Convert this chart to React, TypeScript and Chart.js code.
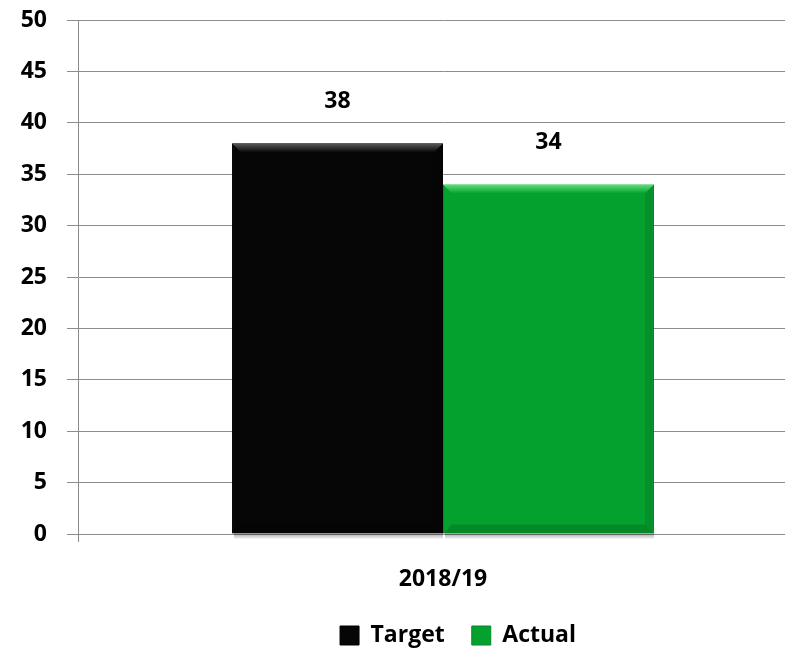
import React, { useEffect, useRef } from "react";
import { Chart, registerables } from "chart.js";

Chart.register(...registerables);

const categories = ["2018/19"];
const targetValues = [38];
const actualValues = [34];
const seriesNames = ["Target", "Actual"];
const seriesColors = ["#060606", "#05a12f"];
const seriesHighlights = ["#5a5a5a", "#5ee07a"];
const yTicks = [0, 5, 10, 15, 20, 25, 30, 35, 40, 45, 50];

const FONT = "'Open Sans', 'Liberation Sans', sans-serif";
const FSIZE = 23;

const legendShift = {
  id: "legendShift",
  afterLayout(chart: any) {
    const lg = chart.legend;
    if (!lg) return;
    const target = (chart.chartArea.left + chart.chartArea.right) / 2 + 15;
    const cur = (lg.left + lg.right) / 2;
    const d = target - cur;
    lg.left += d;
    lg.right += d;
  },
};

const bevel = {
  id: "bevel",
  afterDatasetsDraw(chart: any) {
    const ctx = chart.ctx;
    ctx.save();
    chart.data.datasets.forEach((ds: any, di: number) => {
      const meta = chart.getDatasetMeta(di);
      meta.data.forEach((bar: any) => {
        const left = bar.x - bar.width / 2;
        const right = bar.x + bar.width / 2;
        const top = bar.y;
        const bottom = bar.base;
        const band = 9;
        const g = ctx.createLinearGradient(0, top, 0, top + band);
        g.addColorStop(0, seriesHighlights[di]);
        g.addColorStop(1, seriesColors[di]);
        ctx.fillStyle = g;
        ctx.beginPath();
        ctx.moveTo(left, top);
        ctx.lineTo(right, top);
        ctx.lineTo(right - band, top + band);
        ctx.lineTo(left + band, top + band);
        ctx.closePath();
        ctx.fill();
        ctx.fillStyle = "rgba(0,0,0,0.10)";
        ctx.beginPath();
        ctx.moveTo(right, top);
        ctx.lineTo(right, bottom);
        ctx.lineTo(right - band, bottom - band);
        ctx.lineTo(right - band, top + band);
        ctx.closePath();
        ctx.fill();
        ctx.fillStyle = "rgba(0,0,0,0.15)";
        ctx.beginPath();
        ctx.moveTo(left, bottom);
        ctx.lineTo(right, bottom);
        ctx.lineTo(right - band, bottom - band);
        ctx.lineTo(left + band, bottom - band);
        ctx.closePath();
        ctx.fill();
        const sg = ctx.createLinearGradient(0, bottom, 0, bottom + 6);
        sg.addColorStop(0, "rgba(0,0,0,0.35)");
        sg.addColorStop(1, "rgba(0,0,0,0)");
        ctx.fillStyle = sg;
        ctx.fillRect(left + 2, bottom, right - left - 2, 6);
      });
    });
    ctx.restore();
  },
};

const valueLabels = {
  id: "valueLabels",
  afterDatasetsDraw(chart: any) {
    const ctx = chart.ctx;
    ctx.save();
    ctx.font = `bold ${FSIZE}px ${FONT}`;
    ctx.fillStyle = "#000";
    ctx.textAlign = "center";
    ctx.textBaseline = "middle";
    chart.data.datasets.forEach((ds: any, di: number) => {
      const meta = chart.getDatasetMeta(di);
      meta.data.forEach((bar: any, i: number) => {
        ctx.fillText(String(ds.data[i]), bar.x, bar.y - 42);
      });
    });
    ctx.restore();
  },
};

export default function App() {
  const ref = useRef<HTMLCanvasElement>(null);
  useEffect(() => {
    if (!ref.current) return;
    const chart = new Chart(ref.current, {
      type: "bar",
      data: {
        labels: categories,
        datasets: [
          {
            label: seriesNames[0],
            data: targetValues,
            backgroundColor: seriesColors[0],
            borderColor: "#000000",
            borderWidth: 1,
            categoryPercentage: 0.578,
            barPercentage: 1,
          },
          {
            label: seriesNames[1],
            data: actualValues,
            backgroundColor: seriesColors[1],
            borderColor: "#048a28",
            borderWidth: 1,
            categoryPercentage: 0.578,
            barPercentage: 1,
          },
        ],
      },
      options: {
        responsive: false,
        animation: false,
        layout: { padding: { left: 8, right: 108, top: 20, bottom: 5 } },
        plugins: {
          tooltip: { enabled: false },
          legend: {
            position: "bottom",
            labels: {
              boxWidth: 19,
              boxHeight: 19,
              padding: 27,
              color: "#000",
              font: { family: FONT, size: FSIZE, weight: "bold" },
            },
          },
        },
        scales: {
          x: {
            grid: {
              display: true,
              offset: true,
              drawOnChartArea: false,
              tickLength: 8,
              color: "#8c8c8c",
            },
            border: { color: "#8c8c8c" },
            ticks: {
              color: "#000",
              padding: 24,
              font: { family: FONT, size: FSIZE, weight: "bold" },
            },
            afterFit: (s: any) => {
              s.height = 63;
              s.paddingLeft = 0;
              s.paddingRight = 0;
            },
          },
          y: {
            min: 0,
            max: 50,
            afterBuildTicks: (s: any) => {
              s.ticks = yTicks.map((v) => ({ value: v }));
            },
            grid: { color: "#8c8c8c", tickLength: 11, lineWidth: 1 },
            border: { color: "#8c8c8c" },
            ticks: {
              color: "#000",
              padding: 20,
              font: { family: FONT, size: FSIZE, weight: "bold" },
            },
            afterFit: (s: any) => {
              s.width = 70;
              s.paddingTop = 0;
              s.paddingBottom = 0;
            },
          },
        },
      },
      plugins: [legendShift, bevel, valueLabels],
    });
    return () => chart.destroy();
  }, []);
  return (
    <div style={{ position: "relative", width: 793, height: 662, overflow: "hidden", margin: -8 }}>
      <canvas ref={ref} width={916} height={662} style={{ display: "block" }} />
    </div>
  );
}
